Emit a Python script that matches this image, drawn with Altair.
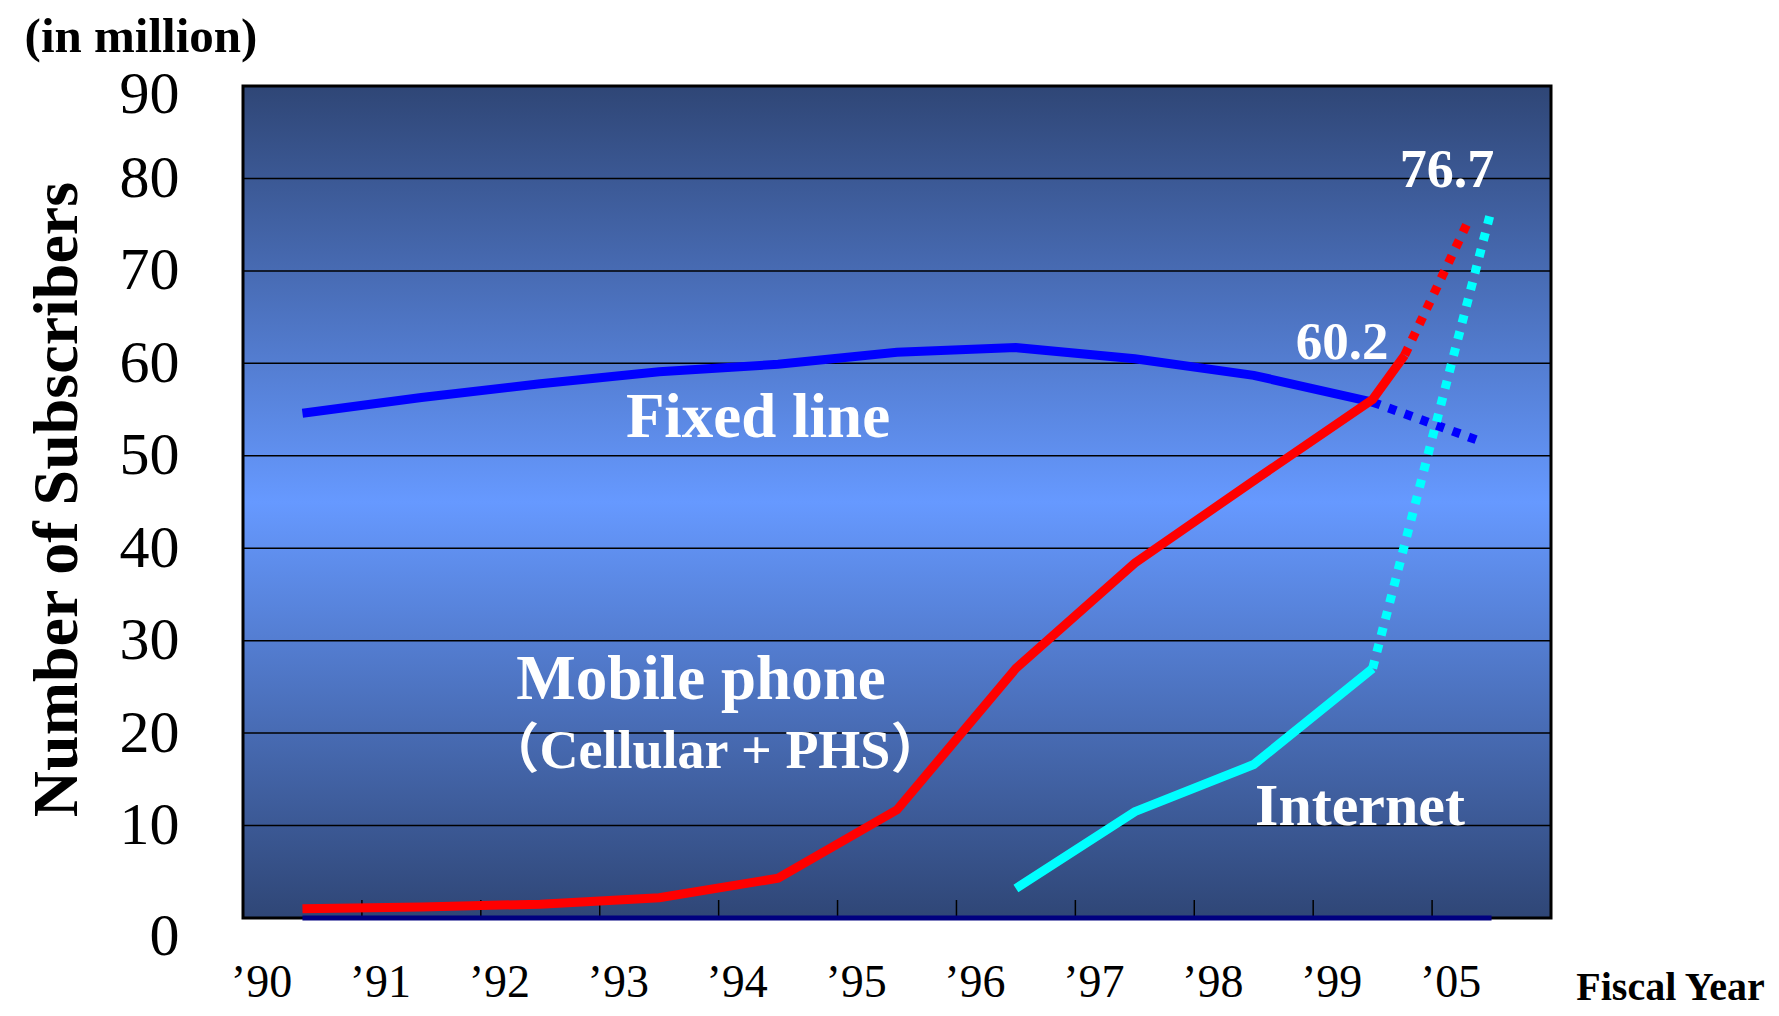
import json
import altair as alt
import pandas as pd

# ---------------- data ----------------
year_labels = ["’90", "’91", "’92", "’93", "’94", "’95", "’96", "’97", "’98", "’99", "’05"]
tick_positions = [1, 2, 3, 4, 5, 6, 7, 8, 9, 10]
grid_values = [10, 20, 30, 40, 50, 60, 70, 80]
y_values = [0, 10, 20, 30, 40, 50, 60, 70, 80, 90]

# x = position along the fiscal-year axis (band centre = index + 0.5)
fixed_x = [0.5, 1.5, 2.5, 3.5, 4.5, 5.5, 6.5, 7.5, 8.5, 9.5]
fixed_y = [54.6, 56.3, 57.8, 59.1, 59.9, 61.2, 61.7, 60.5, 58.7, 55.8]
fixed_proj_x = [9.5, 10.38]
fixed_proj_y = [55.8, 51.7]

mobile_x = [0.5, 1.5, 2.5, 3.5, 4.5, 5.5, 6.5, 7.5, 8.5, 9.5, 9.77]
mobile_y = [1.0, 1.2, 1.5, 2.2, 4.3, 11.7, 27.0, 38.4, 47.3, 56.1, 60.9]
mobile_proj_x = [9.77, 10.29]
mobile_proj_y = [60.9, 75.0]

internet_x = [6.5, 7.5, 8.5, 9.5]
internet_y = [3.2, 11.5, 16.6, 27.0]
internet_proj_x = [9.5, 10.5]
internet_proj_y = [27.0, 76.7]

base_x = [0.5, 1.5, 2.5, 3.5, 4.5, 5.5, 6.5, 7.5, 8.5, 9.5, 10.5]
base_y = [0, 0, 0, 0, 0, 0, 0, 0, 0, 0, 0]

# ---------------- layout ----------------
W, H = 1308, 832
SERIF = "Liberation Serif"
SERIF_CJK = "Liberation Serif, Noto Sans CJK JP"

x_scale = alt.Scale(domain=[0, 11], nice=False, zero=False)
y_scale = alt.Scale(domain=[0, 90], nice=False, zero=True)

label_expr = json.dumps(year_labels, ensure_ascii=False) + "[datum.value]"

x_axis = alt.Axis(
    values=list(range(11)), labelExpr=label_expr, labelFont=SERIF, labelFontSize=46,
    labelColor="black", labelPadding=78, labelBaseline="alphabetic", labelAlign="center",
    labelOffset=18, labelFlush=False, labelOverlap=False, ticks=False, tickSize=0,
    domain=False, grid=False,
    title="Fiscal Year", titleFont=SERIF, titleFontSize=40, titleFontWeight="bold",
    titleColor="black", titleX=1427, titleY=81, titleBaseline="alphabetic",
    titleAlign="center", titleAngle=0,
)
y_axis = alt.Axis(
    values=y_values, labelFont=SERIF, labelFontSize=60, labelColor="black",
    labelPadding=64, labelBaseline="middle", labelFlush=False, labelOverlap=False,
    labelOffset={"condition": [{"test": "datum.value == 0", "value": 18},
                               {"test": "datum.value == 90", "value": 8}], "value": 0},
    ticks=False, tickSize=0, domain=False, grid=False,
    title="Number of Subscribers", titleFont=SERIF, titleFontSize=64, titleFontWeight="bold",
    titleColor="black", titleX=-167, titleY=413, titleAngle=270, titleAlign="center",
    titleBaseline="alphabetic",
)

gradient = {
    "gradient": "linear", "x1": 0, "y1": 0, "x2": 0, "y2": 1,
    "stops": [
        {"offset": 0, "color": "#2F4676"},
        {"offset": 0.5, "color": "#6699FF"},
        {"offset": 1, "color": "#2F4676"},
    ],
}

one = pd.DataFrame({"k": [0]})

background = alt.Chart(one).mark_rect(color=gradient).encode(
    x=alt.datum(0, scale=x_scale, axis=x_axis), x2=alt.datum(11),
    y=alt.datum(0, scale=y_scale, axis=y_axis), y2=alt.datum(90),
)

grid = alt.Chart(pd.DataFrame({"g": grid_values})).mark_rule(color="black", strokeWidth=1.5).encode(
    y=alt.Y("g:Q", scale=y_scale, axis=y_axis)
)

ticks = alt.Chart(pd.DataFrame({"t": tick_positions})).mark_rule(color="black", strokeWidth=1.5).encode(
    x=alt.X("t:Q", scale=x_scale, axis=x_axis), y=alt.value(H - 18), y2=alt.value(H)
)

border = alt.Chart(one).mark_rect(fillOpacity=0, stroke="black", strokeWidth=3).encode(
    x=alt.datum(0, scale=x_scale, axis=x_axis), x2=alt.datum(11),
    y=alt.datum(0, scale=y_scale, axis=y_axis), y2=alt.datum(90),
)


def line_layer(xs, ys, color, width=9, dash=None):
    df = pd.DataFrame({"x": xs, "y": ys, "i": list(range(len(xs)))})
    kw = dict(color=color, strokeWidth=width, strokeCap="butt")
    if dash:
        kw["strokeDash"] = dash
    return alt.Chart(df).mark_line(**kw).encode(
        x=alt.X("x:Q", scale=x_scale, axis=x_axis),
        y=alt.Y("y:Q", scale=y_scale, axis=y_axis),
        order="i:Q",
    )


base_line = line_layer(base_x, base_y, "#000080", width=5)
fixed_solid = line_layer(fixed_x, fixed_y, "#0000FF")
fixed_proj = line_layer(fixed_proj_x, fixed_proj_y, "#0000FF", dash=[8, 9])
mobile_solid = line_layer(mobile_x, mobile_y, "#FF0000")
mobile_proj = line_layer(mobile_proj_x, mobile_proj_y, "#FF0000", dash=[8, 9])
internet_solid = line_layer(internet_x, internet_y, "#00FFFF")
internet_proj = line_layer(internet_proj_x, internet_proj_y, "#00FFFF", dash=[8, 9])


def text_layer(txt, px, py, size, color="white", font=SERIF):
    return alt.Chart(pd.DataFrame({"label": [txt]})).mark_text(
        font=font, fontSize=size, fontWeight="bold", color=color,
        align="center", baseline="alphabetic",
    ).encode(x=alt.value(px), y=alt.value(py), text="label:N")


texts = [
    text_layer("Fixed line", 515, 351, 63),
    text_layer("Mobile phone", 458, 613, 63),
    text_layer("（Cellular + PHS）", 472, 682, 54, font=SERIF_CJK),
    text_layer("Internet", 1117, 739, 60),
    text_layer("60.2", 1099, 273, 53),
    text_layer("76.7", 1204, 101, 54),
    text_layer("(in million)", -102, -34, 49, color="black"),
]

chart = alt.layer(
    background, grid, ticks, border, base_line,
    fixed_solid, fixed_proj, mobile_solid, mobile_proj, internet_solid, internet_proj,
    *texts,
).properties(
    width=W, height=H,
    autosize=alt.AutoSizeParams(type="none"),
    padding={"left": 235, "top": 78, "right": 215, "bottom": 90},
    background="white",
).configure_view(strokeWidth=0)

chart.save("out.html", embed_options={"renderer": "svg", "actions": False})
